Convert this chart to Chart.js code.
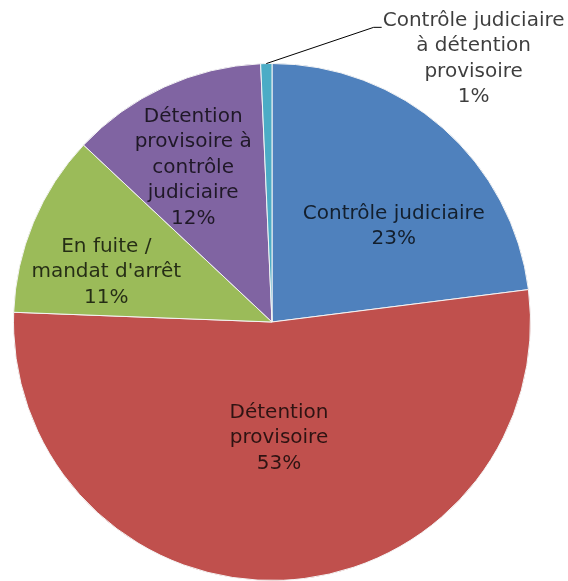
<!DOCTYPE html>
<html>
<head>
<meta charset="utf-8">
<script src="https://cdn.jsdelivr.net/npm/chart.js@4"></script>
<style>
  html, body { margin: 0; padding: 0; background: #fff; }
  #wrap { width: 568px; height: 581px; position: relative; }
</style>
</head>
<body>
<div id="wrap"><canvas id="chart"></canvas></div>
<script>
// categories, in drawing order (clockwise from 12 o'clock)
const categories = [
    ['Contrôle judiciaire'],
    ['Détention', 'provisoire'],
    ['En fuite /', "mandat d'arrêt"],
    ['Détention', 'provisoire à', 'contrôle', 'judiciaire'],
    ['Contrôle judiciaire', 'à détention', 'provisoire']
];
const shares = [23.0, 52.6, 11.4, 12.3, 0.7];
const percentLabels = ['23%', '53%', '11%', '12%', '1%'];
const sliceColors = ['#4F81BD', '#C0504D', '#9BBB59', '#8064A2', '#4BACC6'];

// label anchors, as fractions of the radius from the centre
const labelSpots = [[0.471, -0.371], [0.027, 0.448], [-0.641, -0.193], [-0.305, -0.598], [0.780, -1.019]];

const labelFont = '20px "DejaVu Sans"';

const pieLabels = {
    id: 'pieLabels',
    afterDatasetsDraw(chart) {
        const ctx = chart.ctx;
        const arcs = chart.getDatasetMeta(0).data;
        const lineH = 25.5;
        ctx.save();
        ctx.font = labelFont;
        ctx.textAlign = 'center';
        ctx.textBaseline = 'middle';
        arcs.forEach(function (arc, i) {
            const cx = arc.x, cy = arc.y, r = arc.outerRadius;
            const lines = categories[i].concat([percentLabels[i]]);
            const x = cx + labelSpots[i][0] * r;
            const y = cy + labelSpots[i][1] * r;
            const top = y - (lines.length - 1) * lineH / 2;
            ctx.fillStyle = 'rgba(0,0,0,0.76)';
            lines.forEach(function (t, k) {
                ctx.fillText(t, x, top + k * lineH);
            });
            if (i === 4) {
                // leader line for the tiny slice
                const mid = (arc.startAngle + arc.endAngle) / 2;
                const sx = cx + Math.cos(mid) * r;
                const sy = cy + Math.sin(mid) * r;
                const w = ctx.measureText(lines[0]).width;
                const ex = x - w / 2 - 1;
                const ey = top + 7;
                ctx.strokeStyle = '#000';
                ctx.lineWidth = 1;
                ctx.beginPath();
                ctx.moveTo(sx, sy);
                ctx.lineTo(ex - 8, ey);
                ctx.lineTo(ex, ey);
                ctx.stroke();
            }
        });
        ctx.restore();
    }
};

new Chart(document.getElementById('chart').getContext('2d'), {
    type: 'pie',
    data: {
        labels: categories.map(function (c) { return c.join(' '); }),
        datasets: [{
            data: shares,
            backgroundColor: sliceColors,
            borderColor: '#f4f4f4',
            borderWidth: 1,
            hoverOffset: 0
        }]
    },
    options: {
        responsive: true,
        maintainAspectRatio: false,
        animation: false,
        events: [],
        layout: { padding: { top: 63, bottom: 0, left: 13, right: 37 } },
        plugins: {
            legend: { display: false },
            tooltip: { enabled: false }
        }
    },
    plugins: [pieLabels]
});
</script>
</body>
</html>
